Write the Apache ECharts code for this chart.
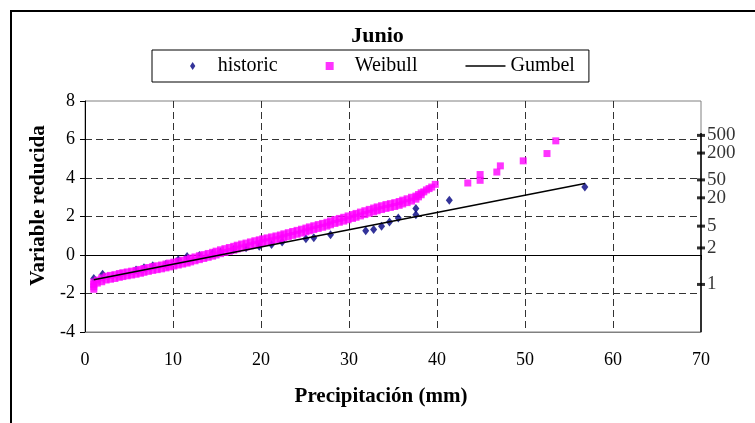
<!DOCTYPE html>
<html><head><meta charset="utf-8">
<script src="https://cdn.jsdelivr.net/npm/echarts@6/dist/echarts.min.js"></script>
<style>html,body{margin:0;padding:0;background:#fff}#c{width:755px;height:423px}</style>
</head><body><div id="c"></div>
<script>
const chartTitle = 'Junio';
const xName = 'Precipitación (mm)';
const yName = 'Variable reducida';
const seriesNames = ['historic', 'Weibull', 'Gumbel'];

// historic observations [precipitation mm, reduced variable]
const historic = [
  [1.0,-1.22],[2.0,-1.0],[5.8,-0.78],[6.7,-0.66],[7.7,-0.56],[9.2,-0.48],[10.6,-0.25],[11.6,-0.08],
  [13.0,-0.02],[14.5,0.08],[15.4,0.15],[16.9,0.28],[18.3,0.38],[19.8,0.45],[21.2,0.55],[22.4,0.67],
  [25.1,0.84],[26.0,0.9],[27.9,1.05],[31.9,1.26],[32.8,1.32],[33.7,1.5],[34.6,1.71],[35.6,1.92],
  [37.6,2.09],[37.6,2.42],[41.4,2.84],[56.8,3.53]
];

// Weibull plotting positions [precipitation mm, reduced variable]
const weibull = [
  [1.0,-1.78],[1.0,-1.65],[1.0,-1.52],[1.0,-1.4],
  [1.4,-1.46],[1.4,-1.3],[1.9,-1.39],[1.9,-1.19],[2.4,-1.3],[2.4,-1.1],[2.9,-1.26],[2.9,-1.06],
  [3.4,-1.22],[3.4,-1.02],[3.9,-1.16],[3.9,-0.96],[4.3,-1.12],[4.3,-0.92],[4.8,-1.08],[4.8,-0.88],
  [5.3,-1.04],[5.3,-0.84],[5.8,-1.0],[5.8,-0.8],[6.3,-0.95],[6.3,-0.75],[6.7,-0.9],[6.7,-0.7],
  [7.2,-0.85],[7.2,-0.65],[7.7,-0.8],[7.7,-0.6],[8.2,-0.76],[8.2,-0.56],[8.7,-0.72],[8.7,-0.52],
  [9.2,-0.67],[9.2,-0.47],[9.6,-0.62],[9.6,-0.42],[10.1,-0.57],[10.1,-0.37],[10.6,-0.52],[10.6,-0.32],
  [11.1,-0.47],[11.1,-0.27],[11.6,-0.42],[11.6,-0.22],[12.0,-0.36],[12.0,-0.16],[12.5,-0.3],[12.5,-0.1],
  [13.0,-0.24],[13.0,-0.04],[13.5,-0.18],[13.5,0.02],[14.0,-0.12],[14.0,0.08],[14.5,-0.06],[14.5,0.14],
  [14.9,0.0],[14.9,0.2],[15.4,0.07],[15.4,0.27],[15.9,0.13],[15.9,0.33],[16.4,0.19],[16.4,0.39],
  [16.9,0.25],[16.9,0.45],[17.3,0.31],[17.3,0.51],[17.8,0.37],[17.8,0.57],[18.3,0.42],[18.3,0.62],
  [18.8,0.48],[18.8,0.68],[19.3,0.54],[19.3,0.74],[19.8,0.59],[19.8,0.79],[20.2,0.64],[20.2,0.84],
  [20.7,0.69],[20.7,0.89],[21.2,0.74],[21.2,0.94],[21.7,0.79],[21.7,0.99],[22.2,0.84],[22.2,1.04],
  [22.6,0.9],[22.6,1.1],[23.1,0.96],[23.1,1.16],[23.6,1.02],[23.6,1.22],[24.1,1.08],[24.1,1.28],
  [24.6,1.14],[24.6,1.34],[25.1,1.2],[25.1,1.4],[25.5,1.26],[25.5,1.46],[26.0,1.32],[26.0,1.52],
  [26.5,1.38],[26.5,1.58],[27.0,1.44],[27.0,1.64],[27.5,1.5],[27.5,1.7],[27.9,1.57],[27.9,1.77],
  [28.4,1.64],[28.4,1.84],[28.9,1.7],[28.9,1.9],[29.4,1.76],[29.4,1.96],[29.9,1.83],[29.9,2.03],
  [30.4,1.9],[30.4,2.1],[30.8,1.96],[30.8,2.16],[31.3,2.03],[31.3,2.23],[31.8,2.1],[31.8,2.3],
  [32.3,2.17],[32.3,2.37],[32.8,2.24],[32.8,2.44],[33.2,2.3],[33.2,2.5],[33.7,2.36],[33.7,2.56],
  [34.2,2.42],[34.2,2.62],[34.7,2.47],[34.7,2.67],[35.2,2.52],[35.2,2.72],[35.7,2.58],[35.7,2.78],
  [36.1,2.65],[36.1,2.85],[36.6,2.72],[36.6,2.92],[37.1,2.8],[37.1,3.0],[37.6,2.9],[37.6,3.06],
  [37.9,3.02],[37.9,3.14],[38.2,3.13],[38.2,3.23],[38.5,3.28],[38.8,3.38],[39.1,3.45],[39.4,3.53],
  [39.8,3.67],[43.5,3.74],[44.9,3.88],[44.9,4.18],[46.8,4.31],[47.2,4.63],[49.8,4.89],[52.5,5.27],
  [53.5,5.93]
];

// fitted Gumbel line [precipitation mm, reduced variable]
const gumbel = [[1.0,-1.28],[56.8,3.71]];

// secondary axis: return periods (years)
const returnPeriodLabels = ['500','200','50','20','5','2','1'];
const returnPeriods = [500,200,50,20,5,2,1.01];

const xMin = 0, xMax = 70, xStep = 10;
const yMin = -4, yMax = 8, yStep = 2;

const FONT = '"Liberation Serif","Times New Roman",serif';
const rpTicks = returnPeriods.map((T, i) => ({
  value: [xMax, -Math.log(-Math.log(1 - 1 / T))],
  label: returnPeriodLabels[i]
}));
const rpTop = Math.max(...rpTicks.map(d => d.value[1]));

const chart = echarts.init(document.getElementById('c'), null, {renderer: 'canvas'});
chart.setOption({
  animation: false,
  backgroundColor: '#fff',
  graphic: [{
    type: 'rect', z: 100, silent: true,
    shape: {x: 11, y: 11, width: 800, height: 500},
    style: {fill: 'none', stroke: '#000', lineWidth: 2}
  }],
  title: {
    text: chartTitle, left: 'center', top: 20,
    textStyle: {fontFamily: FONT, fontSize: 22, fontWeight: 'bold', color: '#000'}
  },
  legend: {
    left: 152, top: 50,
    padding: [6, 14, 6, 38],
    borderColor: '#000', borderWidth: 1,
    itemWidth: 40, itemHeight: 8, itemGap: 48, symbolKeepAspect: true,
    textStyle: {fontFamily: FONT, fontSize: 20, color: '#000'},
    data: [
      {name: seriesNames[0], icon: 'path://M3,0L6,4.5L3,9L0,4.5Z'},
      {name: seriesNames[1], icon: 'path://M0,0H7V7H0Z'},
      {name: seriesNames[2], icon: 'path://M0,0H40V1.5H0Z'}
    ]
  },
  grid: {
    left: 85, right: 54, top: 101, bottom: 91,
    show: true, borderColor: '#808080', borderWidth: 1, backgroundColor: '#fff'
  },
  xAxis: [{
    type: 'value', min: xMin, max: xMax, interval: xStep, position: 'bottom',
    axisLine: {show: true, onZero: false, lineStyle: {color: '#808080', width: 1}},
    axisTick: {show: false},
    axisLabel: {fontFamily: FONT, fontSize: 18, color: '#000', margin: 19},
    splitLine: {show: true, showMinLine: false, showMaxLine: false,
      lineStyle: {color: '#333', width: 1, type: [7, 4]}},
    name: xName, nameLocation: 'middle', nameGap: 54,
    nameTextStyle: {fontFamily: FONT, fontSize: 21, fontWeight: 'bold', color: '#000',
      padding: [0, 24, 0, 0]}
  }, {
    type: 'value', min: xMin, max: xMax, interval: xStep, position: 'bottom',
    axisLine: {show: true, onZero: true, lineStyle: {color: '#000', width: 1}},
    axisTick: {show: true, inside: false, length: 5, lineStyle: {color: '#000'}},
    axisLabel: {show: false},
    splitLine: {show: false}
  }],
  yAxis: [{
    type: 'value', min: yMin, max: yMax, interval: yStep, position: 'left',
    axisLine: {show: true, onZero: false, lineStyle: {color: '#000', width: 1}},
    axisTick: {show: true, inside: false, length: 5, lineStyle: {color: '#000'}},
    axisLabel: {fontFamily: FONT, fontSize: 18, color: '#000', margin: 10},
    splitLine: {show: true, showMinLine: false, showMaxLine: false,
      lineStyle: {color: '#333', width: 1, type: [7, 4]}},
    name: yName, nameLocation: 'middle', nameRotate: 90, nameGap: 33,
    nameTextStyle: {fontFamily: FONT, fontSize: 21, fontWeight: 'bold', color: '#000',
      padding: [0, 0, 0, 22]}
  }],
  series: [{
    name: seriesNames[0], type: 'scatter', data: historic,
    symbol: 'diamond', symbolSize: [7, 9],
    itemStyle: {color: '#000080'}
  }, {
    name: seriesNames[1], type: 'scatter', data: weibull,
    symbol: 'rect', symbolSize: 7,
    itemStyle: {color: '#FF00FF'}
  }, {
    name: seriesNames[2], type: 'line', data: gumbel,
    showSymbol: false, symbol: 'none',
    lineStyle: {color: '#000', width: 1.5},
    itemStyle: {color: '#000'}
  }, {
    type: 'line', data: [[xMax, rpTop + 0.12], [xMax, yMin]],
    showSymbol: false, symbol: 'none', silent: true,
    lineStyle: {color: '#000', width: 1.5}, clip: false, z: 5
  }, {
    type: 'scatter', data: rpTicks, clip: false, silent: true, z: 6,
    symbol: 'rect', symbolSize: [8, 3],
    itemStyle: {color: '#000'},
    label: {show: true, position: 'right', distance: 2,
      formatter: p => p.data.label,
      fontFamily: FONT, fontSize: 19, color: '#000'}
  }]
});
</script>
</body></html>
